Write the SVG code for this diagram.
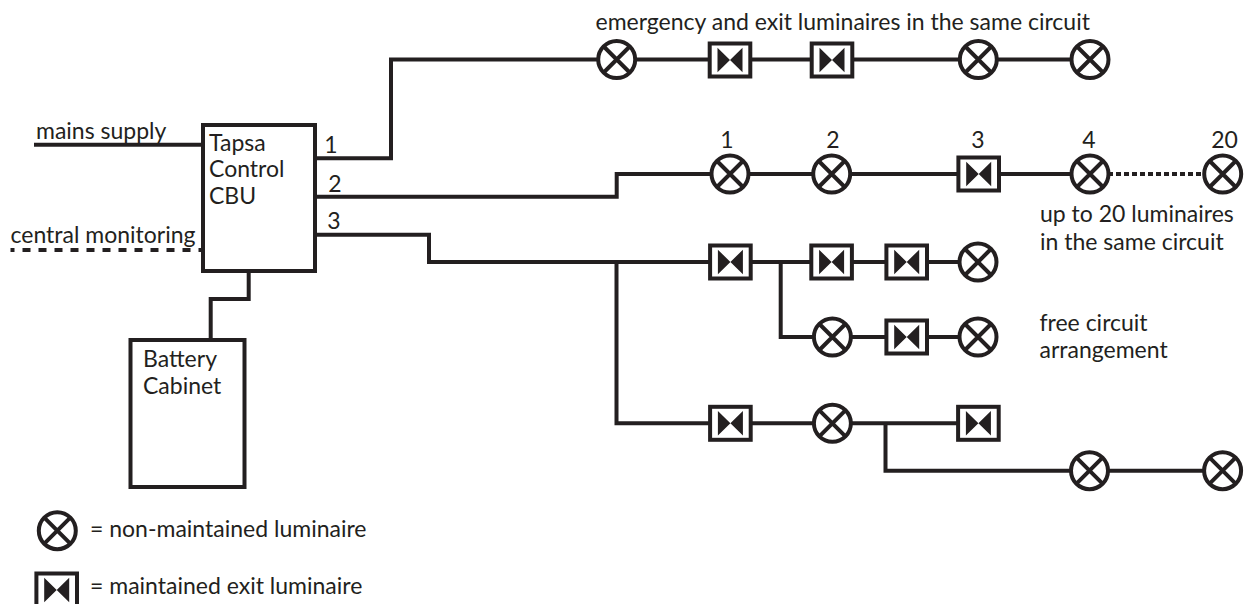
<svg xmlns="http://www.w3.org/2000/svg" width="1244" height="604" viewBox="0 0 1244 604">
<style>
.w{fill:none;stroke:#231f20;stroke-width:4}
.t{font-family:"Lato","Liberation Sans",sans-serif;font-size:23px;fill:#231f20}
.c{text-anchor:middle}
.b{fill:#fff;stroke:#231f20;stroke-width:4}
.f{fill:#231f20}
</style>
<defs>
<g id="lum"><circle r="18.500" class="b"/><path d="M-13-13L13 13M-13 13L13-13" class="w"/></g>
<g id="exit"><rect x="-20.300" y="-16.500" width="40.600" height="33" class="b"/><path d="M-12.500-12.300L0 0L-12.500 12.300ZM12.500-12.300L0 0L12.500 12.300Z" class="f"/></g>
</defs>
<g id="connectors">
<path class="w" d="M34 144.700H203"/>
<path class="w" d="M10.500 250H202" stroke-dasharray="8 8" stroke-dashoffset="4"/>
<path class="w" d="M315 158.300H391V59.500H1090"/>
<path class="w" d="M315 196.700H616.700V174H1090"/>
<path class="w" d="M1108 174H1204" stroke-dasharray="5 3"/>
<path class="w" d="M315 234.700H429V262H978"/>
<path class="w" d="M616.500 262V423.300H978"/>
<path class="w" d="M780.700 262V337H978"/>
<path class="w" d="M885.500 423.300V470.700H1222"/>
<path class="w" d="M248.700 271V299H210.700V340"/>
</g>
<g id="cbu"><rect x="203" y="125" width="112" height="146" class="b"/><text class="t" x="209" y="151">Tapsa</text><text class="t" x="209" y="177">Control</text><text class="t" x="209" y="204">CBU</text></g>
<g id="battery"><rect x="130.500" y="340" width="114" height="147" class="b"/><text class="t" x="143" y="367">Battery</text><text class="t" x="143" y="394">Cabinet</text></g>
<g id="labels">
<text class="t" x="36" y="139">mains supply</text>
<text class="t" x="10.500" y="242.700">central monitoring</text>
<text class="t c" x="331" y="152.700">1</text><text class="t c" x="335" y="191.700">2</text><text class="t c" x="334" y="229">3</text>
<text class="t" x="595.500" y="30">emergency and exit luminaires in the same circuit</text>
<text class="t c" x="727" y="148">1</text><text class="t c" x="833" y="148">2</text><text class="t c" x="978" y="148">3</text><text class="t c" x="1089" y="148">4</text><text class="t c" x="1224.500" y="148">20</text>
<text class="t" x="1040" y="222">up to 20 luminaires</text><text class="t" x="1040" y="250">in the same circuit</text>
<text class="t" x="1039.500" y="330.700">free circuit</text><text class="t" x="1039.500" y="358">arrangement</text>
<text class="t" x="90" y="537.300">= non-maintained luminaire</text>
<text class="t" x="90" y="594">= maintained exit luminaire</text>
</g>
<g id="n1"><use href="#lum" x="616.700" y="59.500"/></g>
<g id="n2"><use href="#exit" x="730" y="60"/></g>
<g id="n3"><use href="#exit" x="832" y="60"/></g>
<g id="n4"><use href="#lum" x="978.300" y="59.500"/></g>
<g id="n5"><use href="#lum" x="1090" y="59.500"/></g>
<g id="n6"><use href="#lum" x="730" y="174"/></g>
<g id="n7"><use href="#lum" x="831.700" y="174"/></g>
<g id="n8"><use href="#exit" x="978.700" y="174"/></g>
<g id="n9"><use href="#lum" x="1090" y="174"/></g>
<g id="n10"><use href="#lum" x="1222.700" y="174"/></g>
<g id="n11"><use href="#exit" x="730.400" y="262"/></g>
<g id="n12"><use href="#exit" x="831.600" y="262"/></g>
<g id="n13"><use href="#exit" x="906.700" y="262"/></g>
<g id="n14"><use href="#lum" x="978" y="262"/></g>
<g id="n15"><use href="#lum" x="832.400" y="337"/></g>
<g id="n16"><use href="#exit" x="906.700" y="337"/></g>
<g id="n17"><use href="#lum" x="978" y="337"/></g>
<g id="n18"><use href="#exit" x="730.400" y="423.300"/></g>
<g id="n19"><use href="#lum" x="832.400" y="423.300"/></g>
<g id="n20"><use href="#exit" x="978.400" y="423.300"/></g>
<g id="n21"><use href="#lum" x="1089.500" y="470.700"/></g>
<g id="n22"><use href="#lum" x="1222.600" y="470.700"/></g>
<g id="legend"><use href="#lum" x="57.300" y="530.700"/><use href="#exit" x="56.700" y="590"/></g>
</svg>
